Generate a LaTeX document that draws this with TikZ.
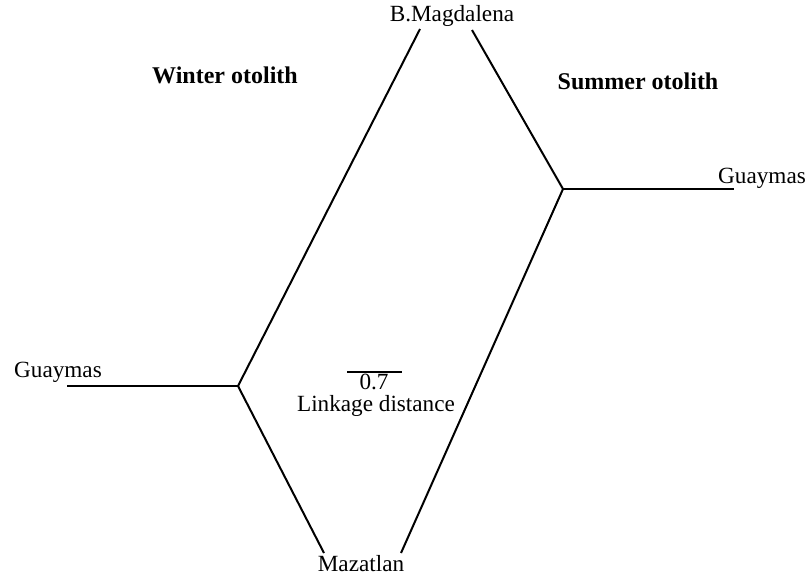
\documentclass[tikz,border=0pt]{standalone}
\usepackage{fontspec}
\setmainfont{Liberation Serif}
\begin{document}
\begin{tikzpicture}[x=0.5pt,y=-0.5pt,
  branch/.style={line width=1pt, black},
  leaf/.style={inner sep=0pt, font=\fontsize{11.6}{13}\selectfont},
  heading/.style={inner sep=0pt, font=\fontsize{12}{14}\selectfont\bfseries}]
\useasboundingbox (0,0) rectangle (812,575);
% junctions and line ends
\coordinate (jl) at (238,386);
\coordinate (jr) at (563,189);
\coordinate (gl) at (67,386);
\coordinate (gr) at (734,189);
\coordinate (bm1) at (420,29);
\coordinate (bm2) at (472,30);
\coordinate (mz1) at (324,553);
\coordinate (mz2) at (401,553);
\coordinate (sb1) at (347,372);
\coordinate (sb2) at (402,372);
% labels
\node[leaf] (bmag) at (452,16) {B.Magdalena};
\node[leaf] (maz) at (361,564) {Mazatlan};
\node[leaf] (guayL) at (58,372) {Guaymas};
\node[leaf] (guayR) at (762,178) {Guaymas};
\node[heading] (winter) at (225,75) {Winter otolith};
\node[heading] (summer) at (638,81) {Summer otolith};
\node[leaf] (scale) at (374,382) {0.7};
\node[leaf] (link) at (376,406) {Linkage distance};
% branches
\draw[branch] (gl) -- (jl);
\draw[branch] (jl) -- (bm1);
\draw[branch] (jl) -- (mz1);
\draw[branch] (bm2) -- (jr);
\draw[branch] (jr) -- (gr);
\draw[branch] (jr) -- (mz2);
\draw[line width=1.4pt] (sb1) -- (sb2);
\end{tikzpicture}
\end{document}
